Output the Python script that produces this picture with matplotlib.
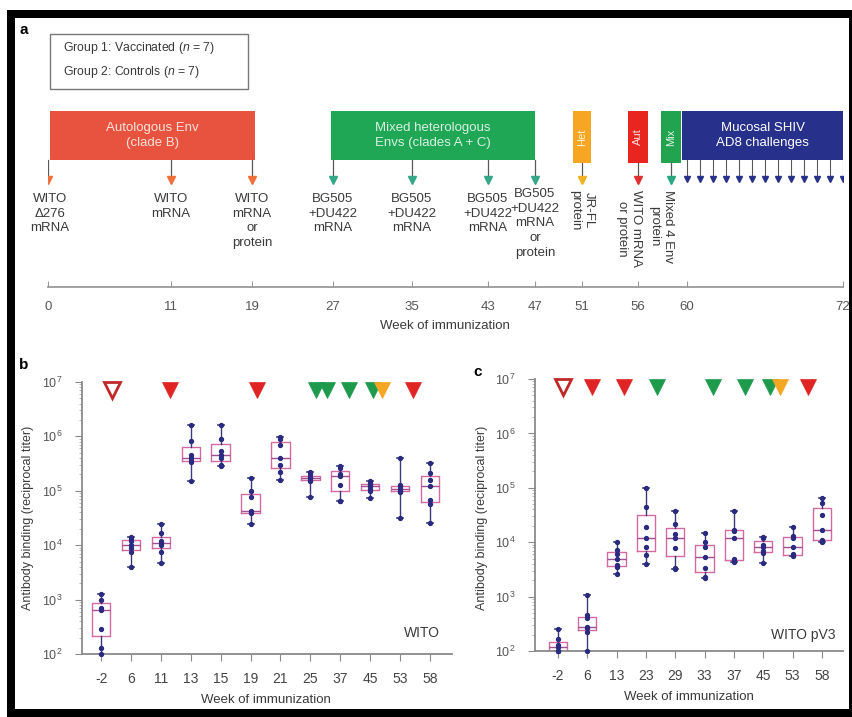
import numpy as np
import matplotlib
matplotlib.use('Agg')
import matplotlib.pyplot as plt
from matplotlib.patches import Rectangle
from matplotlib.ticker import LogLocator, FixedLocator, NullFormatter, FuncFormatter

plt.rcParams['font.family'] = ['Liberation Sans', 'DejaVu Sans']
plt.rcParams['axes.unicode_minus'] = False
plt.rcParams['mathtext.fontset'] = 'custom'
plt.rcParams['mathtext.rm'] = 'Liberation Sans'
plt.rcParams['mathtext.it'] = 'Liberation Sans:italic'
plt.rcParams['mathtext.bf'] = 'Liberation Sans:bold'

W, H = 853, 717
TXT = '#3a3a3a'

# ---------------- Panel a data ----------------
tl_weeks = [0, 11, 19, 27, 35, 43, 47, 51, 56, 60, 72]
tl_pos = [48, 171, 252, 333, 412, 488, 535, 582, 638, 687, 843]   # schematic spacing

phase_labels = ["Autologous Env\n(clade B)", "Mixed heterologous\nEnvs (clades A + C)",
                "Het", "Aut", "Mix", "Mucosal SHIV\nAD8 challenges"]
phase_start = [0.2, 26.8, 50.2, 55.1, 57.9, 59.6]
phase_end = [19.3, 47.0, 51.8, 56.8, 59.5, 72.0]
phase_colors = ['#e8533f', '#1fa755', '#f6a623', '#e8261f', '#22a350', '#27318b']
phase_textcolors = ['#fde2da', '#d9f2e2', '#fff3d0', '#ffe0e0', '#e0f5e8', '#ffffff']

imm_weeks = [0, 11, 19, 27, 35, 43, 47, 51, 56, 58.7]
imm_labels = ["WITO\nΔ276\nmRNA", "WITO\nmRNA", "WITO\nmRNA\nor\nprotein",
              "BG505\n+DU422\nmRNA", "BG505\n+DU422\nmRNA", "BG505\n+DU422\nmRNA",
              "BG505\n+DU422\nmRNA\nor\nprotein", "JR-FL\nprotein",
              "WITO mRNA\nor protein", "Mixed 4 Env\nprotein"]
imm_colors = ['#f0703c', '#f0703c', '#f0703c', '#35a88a', '#35a88a', '#35a88a', '#35a88a',
              '#f5b020', '#e03030', '#2aa880']
challenge_weeks = [60, 61, 62, 63, 64, 65, 66, 67, 68, 69, 70, 71, 72]

# ---------------- Panel b data ----------------
b_weeks = ['-2', '6', '11', '13', '15', '19', '21', '25', '37', '45', '53', '58']
b_values = [
    [100, 130, 290, 650, 700, 1000, 1260],
    [4000, 7500, 9000, 10000, 12000, 13000, 14000],
    [4700, 7500, 10000, 11000, 12000, 16600, 24500],
    [1.5e5, 3.4e5, 3.6e5, 4.0e5, 4.5e5, 8.4e5, 1.6e6],
    [2.8e5, 3.0e5, 4.0e5, 4.5e5, 5.3e5, 8.9e5, 1.6e6],
    [2.5e4, 3.9e4, 4.0e4, 4.2e4, 7.8e4, 1.0e5, 1.7e5],
    [1.6e5, 2.2e5, 3.0e5, 4.0e5, 6.9e5, 9.0e5, 9.8e5],
    [7.8e4, 1.5e5, 1.6e5, 1.7e5, 1.8e5, 2.0e5, 2.2e5],
    [6.4e4, 6.6e4, 1.3e5, 1.9e5, 2.0e5, 2.6e5, 2.8e5],
    [7.4e4, 1.0e5, 1.1e5, 1.2e5, 1.3e5, 1.4e5, 1.5e5],
    [3.2e4, 9.5e4, 1.0e5, 1.1e5, 1.2e5, 1.3e5, 4.0e5],
    [2.6e4, 5.7e4, 6.8e4, 1.2e5, 1.6e5, 2.1e5, 3.2e5],
]
b_tri_pos = [0.36, 2.31, 5.21, 7.19, 7.56, 8.29, 9.10, 9.40, 10.43]
b_tri_col = ['open', '#e02424', '#e02424', '#1e9a4c', '#1e9a4c', '#1e9a4c', '#1e9a4c', '#f5a623', '#e02424']

# ---------------- Panel c data ----------------
c_weeks = ['-2', '6', '13', '23', '29', '33', '37', '45', '53', '58']
c_values = [
    [100, 100, 100, 120, 130, 165, 250],
    [100, 225, 260, 280, 400, 460, 1070],
    [2600, 3500, 3800, 5000, 6000, 7200, 10000],
    [3900, 5800, 8000, 11800, 19000, 45000, 100000],
    [3200, 3400, 7800, 12000, 14000, 22000, 38000],
    [2200, 2300, 3300, 5400, 8000, 10000, 14500],
    [4300, 4600, 5000, 12000, 16000, 17000, 38000],
    [4200, 6300, 7000, 8000, 9000, 12000, 12500],
    [5500, 5800, 6000, 8000, 12000, 13000, 18700],
    [10000, 10500, 11000, 16700, 32000, 52000, 64000],
]
c_tri_pos = [0.16, 1.18, 2.25, 3.38, 5.28, 6.38, 7.23, 7.57, 8.52]
c_tri_col = ['open', '#e02424', '#e02424', '#1e9a4c', '#1e9a4c', '#1e9a4c', '#1e9a4c', '#f5a623', '#e02424']

fig = plt.figure(figsize=(W / 100, H / 100), dpi=100)


def fx(x):
    return x / W


def fy(y):
    return 1 - y / H


# ---------------- frame ----------------
for (x0, y0, x1, y1) in [(7, 10, 15, 717), (7, 10, 853, 18), (849, 10, 853, 717), (7, 709, 853, 717)]:
    fig.patches.append(Rectangle((fx(x0), fy(y1)), fx(x1) - fx(x0), fy(y0) - fy(y1),
                                 transform=fig.transFigure, facecolor='black', edgecolor='none',
                                 zorder=-5))

# ---------------- Panel a ----------------
axa = fig.add_axes([fx(48), fy(340), fx(843) - fx(48), 340 / H])


def fwd(w):
    return np.interp(w, tl_weeks, tl_pos)


def inv(p):
    return np.interp(p, tl_pos, tl_weeks)


axa.set_xscale('function', functions=(fwd, inv))
axa.set_xlim(0, 72)
axa.set_ylim(340, 0)
axa.patch.set_alpha(0)
for s in ['left', 'right', 'top']:
    axa.spines[s].set_visible(False)
axa.spines['bottom'].set_position(('data', 287))
axa.spines['bottom'].set_color('#9a9a9a')
axa.spines['bottom'].set_linewidth(1.3)
axa.set_xticks(tl_weeks)
axa.set_xticklabels([str(w) for w in tl_weeks])
axa.xaxis.set_minor_locator(FixedLocator([]))
axa.tick_params(axis='x', direction='in', length=4, color='#9a9a9a', labelsize=9.5,
                labelcolor='#555555', pad=10)
axa.set_yticks([])

for lab, s, e, col, tcol in zip(phase_labels, phase_start, phase_end, phase_colors, phase_textcolors):
    small = len(lab) <= 3
    top, bot = 111, (163 if small else 160)
    axa.add_patch(Rectangle((s, top), e - s, bot - top, facecolor=col, edgecolor='none'))
    xc = inv((fwd(s) + fwd(e)) / 2)
    axa.text(xc, (top + bot) / 2, lab, ha='center', va='center', color=tcol,
             fontsize=8 if small else 9.5, rotation=90 if small else 0, linespacing=1.35)

for w, lab, col in zip(imm_weeks, imm_labels, imm_colors):
    y0 = 163 if w >= 50 else 160
    axa.plot([w, w], [y0, 177], color='#5a5a5a', lw=0.9)
    axa.plot([w], [180], marker='v', ms=6, color=col, mec=col)

for w in challenge_weeks:
    axa.plot([w, w], [160, 176], color='#5a5a5a', lw=0.8)
    axa.plot([w], [179], marker='v', ms=5, color='#27318b', mec='#27318b')

label_x = [0.15, 11, 19, 27, 35, 43, 47, 51, 55.2, 57.9]
for i, (lx, lab) in enumerate(zip(label_x, imm_labels)):
    if i < 7:
        axa.text(lx, 188 if i == 6 else 193, lab, ha='center', va='top', fontsize=9.5,
                 color=TXT, linespacing=1.3)
    else:
        axa.text(lx, 190, lab, ha='center', va='top', fontsize=9.5, color=TXT,
                 rotation=-90, linespacing=1.2)

fig.text(fx(445), fy(326), 'Week of immunization', ha='center', va='center', fontsize=9.5, color=TXT)

# legend box
fig.patches.append(Rectangle((fx(50), fy(89)), fx(248) - fx(50), fy(34) - fy(89),
                             transform=fig.transFigure, fill=False, edgecolor='#777777', lw=1))
fig.text(fx(63), fy(48), 'Group 1: Vaccinated ($\\it{n}$ = 7)', ha='left', va='center', fontsize=8.8, color=TXT)
fig.text(fx(63), fy(72), 'Group 2: Controls ($\\it{n}$ = 7)', ha='left', va='center', fontsize=8.8, color=TXT)

fig.text(fx(24), fy(30), 'a', fontsize=11, fontweight='bold', ha='center', va='center')
fig.text(fx(24), fy(365), 'b', fontsize=11, fontweight='bold', ha='center', va='center')
fig.text(fx(478), fy(372), 'c', fontsize=11, fontweight='bold', ha='center', va='center')


# ---------------- Panels b and c ----------------
def box_panel(rect, weeks, values, tri_pos, tri_col, xlim, name, name_xy, ylab_x, xlab_x, xlab_y):
    ax = fig.add_axes(rect)
    ax.set_yscale('log')
    ax.set_ylim(1e2, 1e7)
    ax.set_xlim(*xlim)
    ax.boxplot(values, positions=np.arange(len(values)), widths=0.62, whis=(0, 100),
               showfliers=False, capwidths=0.2,
               boxprops=dict(color='#d46a9f', lw=1.0),
               medianprops=dict(color='#a05090', lw=1.0),
               whiskerprops=dict(color='#3a3a7a', lw=1.0),
               capprops=dict(color='#3a3a7a', lw=1.2))
    for i, vals in enumerate(values):
        ax.plot([i] * len(vals), vals, 'o', ms=2.8, color='#2a2a80', clip_on=False, zorder=4)
    for p, c in zip(tri_pos, tri_col):
        if c == 'open':
            ax.plot([p], [10 ** 6.86], marker='v', ms=11.5, mfc='white', mec='#c0282a', mew=2, clip_on=False)
        else:
            ax.plot([p], [10 ** 6.86], marker='v', ms=11.5, mfc=c, mec=c, mew=0.5, clip_on=False)
    ax.set_xticks(np.arange(len(weeks)))
    ax.set_xticklabels(weeks)
    for s in ['right', 'top']:
        ax.spines[s].set_visible(False)
    for s in ['left', 'bottom']:
        ax.spines[s].set_color('#8a8a8a')
        ax.spines[s].set_linewidth(1.3)
    ax.yaxis.set_major_locator(LogLocator(base=10, numticks=10))
    ax.yaxis.set_minor_locator(LogLocator(base=10, subs=np.arange(2, 10), numticks=20))
    ax.yaxis.set_minor_formatter(NullFormatter())
    ax.yaxis.set_major_formatter(FuncFormatter(lambda v, p: '$10^{%d}$' % round(np.log10(v))))
    ax.tick_params(axis='y', which='major', length=5, color='#8a8a8a', labelsize=9,
                   labelcolor='#555555', pad=9)
    ax.tick_params(axis='y', which='minor', length=2.5, color='#aaaaaa')
    ax.tick_params(axis='x', length=5, color='#8a8a8a', labelsize=10, labelcolor='#444444', pad=8)
    ax.text(name_xy[0], name_xy[1], name, transform=fig.transFigure, ha='right', va='center',
            fontsize=10, color=TXT)
    fig.text(fx(ylab_x), fy(518), 'Antibody binding (reciprocal titer)', rotation=90,
             ha='center', va='center', fontsize=9, color=TXT)
    fig.text(fx(xlab_x), fy(xlab_y), 'Week of immunization', ha='center', va='center',
             fontsize=9.5, color=TXT)
    return ax


box_panel([fx(82), fy(654), fx(452) - fx(82), fy(382) - fy(654)], b_weeks, b_values,
          b_tri_pos, b_tri_col, (-0.64, 11.74), 'WITO', (fx(440), fy(633)), 28, 266, 700)
box_panel([fx(535), fy(651), fx(843) - fx(535), fy(379) - fy(651)], c_weeks, c_values,
          c_tri_pos, c_tri_col, (-0.78, 9.72), 'WITO pV3', (fx(836), fy(635)), 482, 689, 697)

fig.savefig('out.png', dpi=100)
